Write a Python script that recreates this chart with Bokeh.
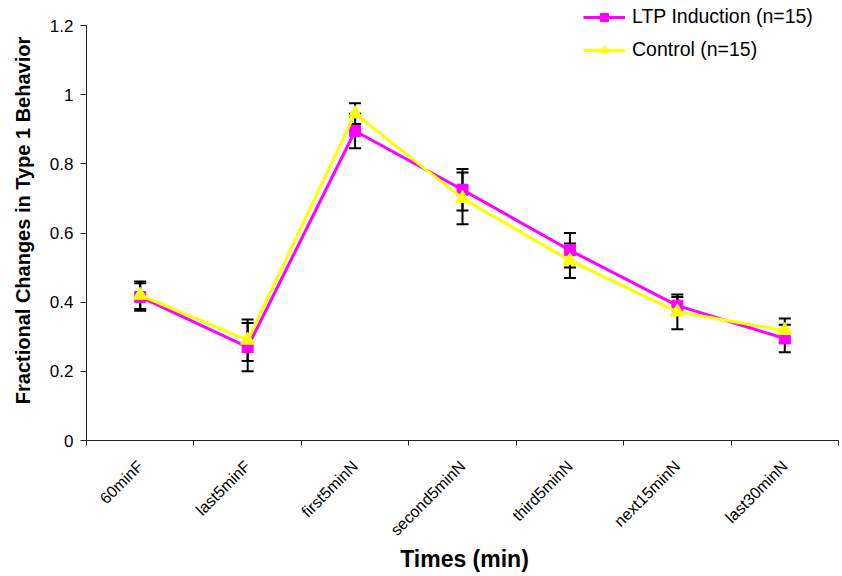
import math
from bokeh.plotting import figure
from bokeh.models import (ColumnDataSource, Whisker, TeeHead, FixedTicker, Range1d,
                          Legend, LegendItem)
from bokeh.embed import file_html
from bokeh.resources import INLINE

categories = ["60minF", "last5minF", "first5minN", "second5minN",
              "third5minN", "next15minN", "last30minN"]
ltp_mean = [0.415, 0.27, 0.895, 0.725, 0.55, 0.39, 0.295]
ltp_err = [0.04, 0.07, 0.05, 0.06, 0.05, 0.025, 0.04]
ctrl_mean = [0.42, 0.29, 0.945, 0.70, 0.52, 0.372, 0.318]
ctrl_err = [0.04, 0.06, 0.03, 0.075, 0.05, 0.05, 0.035]
y_ticks = [0, 0.2, 0.4, 0.6, 0.8, 1.0, 1.2]
y_tick_labels = ["0", "0.2", "0.4", "0.6", "0.8", "1", "1.2"]

FONT = "Liberation Sans"
MAGENTA = "#FF00FF"
YELLOW = "#FFFF00"
AXIS = "#222222"

n = len(categories)
xs = [i + 0.5 for i in range(n)]

# frame: left 86, right 842, top 0, bottom 440; axis 0..1.2 over 415px, 7 cats over 752px
p = figure(width=842, height=576, output_backend="svg", toolbar_location=None,
           x_range=Range1d(0, n * 756 / 752), y_range=Range1d(0, 1.2 * 440 / 415),
           min_border_left=86, min_border_right=0, min_border_top=0,
           min_border_bottom=136)
p.outline_line_color = None
p.xgrid.visible = False
p.ygrid.visible = False
p.background_fill_color = "white"
p.border_fill_color = "white"

# x axis
p.xaxis.bounds = (0, n)
p.xaxis.ticker = FixedTicker(ticks=xs, minor_ticks=list(range(n + 1)))
p.xaxis.major_label_overrides = {x: c for x, c in zip(xs, categories)}
p.xaxis.major_tick_out = 0
p.xaxis.major_tick_in = 0
p.xaxis.minor_tick_out = 5
p.xaxis.minor_tick_in = 0
p.xaxis.minor_tick_line_color = AXIS
p.xaxis.major_label_orientation = math.pi / 4
p.xaxis.major_label_text_font = FONT
p.xaxis.major_label_text_font_size = "16px"
p.xaxis.major_label_text_color = "black"
p.xaxis.major_label_standoff = 18
p.xaxis.axis_line_color = AXIS
p.xaxis.axis_label = "Times (min)"
p.xaxis.axis_label_text_font = FONT
p.xaxis.axis_label_text_font_style = "bold"
p.xaxis.axis_label_text_font_size = "23px"
p.xaxis.axis_label_text_color = "black"
p.xaxis.axis_label_standoff = -2

# y axis
p.yaxis.bounds = (0, 1.2)
p.yaxis.ticker = FixedTicker(ticks=y_ticks, minor_ticks=[])
p.yaxis.major_label_overrides = {t: l for t, l in zip(y_ticks, y_tick_labels)}
p.yaxis.major_tick_out = 6
p.yaxis.major_tick_in = 0
p.yaxis.major_tick_line_color = AXIS
p.yaxis.major_label_text_font = FONT
p.yaxis.major_label_text_font_size = "17px"
p.yaxis.major_label_text_color = "black"
p.yaxis.major_label_standoff = 7
p.yaxis.axis_line_color = AXIS
p.yaxis.axis_label = "Fractional Changes in Type 1 Behavior"
p.yaxis.axis_label_text_font = FONT
p.yaxis.axis_label_text_font_style = "bold"
p.yaxis.axis_label_text_font_size = "20px"
p.yaxis.axis_label_text_color = "black"
p.yaxis.axis_label_standoff = 13

# error bars
for mean, err in ((ltp_mean, ltp_err), (ctrl_mean, ctrl_err)):
    src = ColumnDataSource(dict(x=xs,
                                upper=[m + e for m, e in zip(mean, err)],
                                lower=[m - e for m, e in zip(mean, err)]))
    w = Whisker(source=src, base="x", upper="upper", lower="lower",
                line_color="black", line_width=2,
                upper_head=TeeHead(size=12, line_width=2, line_color="black"),
                lower_head=TeeHead(size=12, line_width=2, line_color="black"))
    p.add_layout(w)

# series
l1 = p.line(xs, ltp_mean, line_color=MAGENTA, line_width=3)
s1 = p.scatter(xs, ltp_mean, marker="square", size=11, fill_color=MAGENTA,
               line_color=MAGENTA)
l2 = p.line(xs, ctrl_mean, line_color=YELLOW, line_width=3)
s2 = p.scatter(xs, ctrl_mean, marker="triangle", size=14, fill_color=YELLOW,
               line_color=YELLOW)

legend = Legend(items=[LegendItem(label="LTP Induction (n=15)", renderers=[l1, s1]),
                       LegendItem(label="Control (n=15)", renderers=[l2, s2])],
                location=(497, 379), border_line_color=None,
                background_fill_alpha=0, padding=0, margin=0, spacing=10,
                glyph_width=42, glyph_height=20, label_height=20,
                label_standoff=7, label_text_font=FONT,
                label_text_font_size="19.5px", label_text_color="black")
p.add_layout(legend, "center")

open("out.html", "w").write(file_html(p, INLINE))
